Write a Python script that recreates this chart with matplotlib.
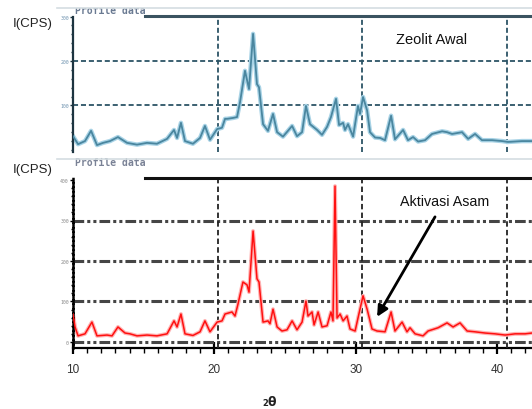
import matplotlib
matplotlib.use('Agg')
import matplotlib.pyplot as plt
from matplotlib.lines import Line2D
from matplotlib.patches import Rectangle
from matplotlib.ticker import MultipleLocator

# ---------------- data ----------------
tt_awal = [10.0, 10.35, 10.83, 11.25, 11.66, 12.08, 12.56, 13.11, 13.74, 14.43, 15.12, 15.81,
           16.51, 16.99, 17.20, 17.47, 17.75, 18.30, 18.79, 19.13, 19.48, 19.97, 20.31, 20.52,
           20.66, 21.07, 21.35, 21.56, 21.90, 22.18, 22.46, 22.73, 22.87, 23.15, 23.49, 23.84,
           24.12, 24.53, 25.16, 25.50, 25.85, 26.12, 26.40, 26.89, 27.23, 27.58, 27.85, 28.20,
           28.41, 28.69, 28.82, 29.03, 29.38, 29.72, 29.86, 30.07, 30.35, 30.55, 30.90, 31.25,
           31.59, 32.01, 32.28, 32.84, 33.18, 33.53, 33.88, 34.36, 34.84, 35.54, 35.88, 36.23,
           36.92, 37.34, 37.82, 38.30, 39.00, 39.69, 40.10, 41.07, 41.76]
I_awal = [31, 13, 20, 43, 11, 16, 20, 29, 16, 12, 16, 14,
          25, 45, 27, 61, 20, 14, 27, 54, 23, 47, 50, 70,
          70, 72, 74, 108, 178, 137, 261, 148, 141, 58, 43, 81,
          40, 30, 54, 31, 40, 99, 58, 45, 34, 52, 74, 115,
          56, 61, 45, 58, 30, 99, 81, 119, 89, 40, 28, 27,
          22, 77, 24, 45, 22, 29, 19, 22, 36, 42, 40, 36,
          40, 25, 36, 22, 22, 20, 18, 20, 20]

tt_asam = [10.0, 10.14, 10.35, 10.83, 11.31, 11.66, 12.35, 12.70, 13.11, 13.60, 13.94, 14.43,
           15.12, 15.81, 16.51, 16.99, 17.20, 17.47, 17.75, 18.30, 18.79, 19.13, 19.48, 19.97,
           20.31, 20.52, 21.00, 21.21, 21.42, 21.76, 22.04, 22.18, 22.46, 22.73, 22.87, 23.15,
           23.49, 23.63, 23.84, 24.12, 24.46, 24.81, 25.16, 25.50, 25.85, 26.12, 26.26, 26.54,
           26.68, 26.96, 27.23, 27.58, 27.85, 27.99, 28.13, 28.27, 28.48, 28.69, 28.96, 29.17,
           29.52, 29.72, 30.07, 30.35, 30.69, 31.04, 31.59, 32.01, 32.28, 32.77, 33.11, 33.32,
           33.67, 34.22, 34.57, 35.26, 35.88, 36.30, 36.78, 37.27, 37.82, 38.51, 39.20, 39.90,
           40.59, 41.28, 41.76]
I_asam = [69, 37, 15, 20, 49, 15, 17, 15, 37, 22, 20, 15,
          17, 15, 20, 52, 37, 69, 20, 16, 25, 52, 25, 49,
          52, 69, 74, 64, 94, 148, 141, 123, 274, 156, 148, 49,
          52, 45, 81, 37, 27, 30, 52, 30, 49, 101, 64, 74,
          42, 74, 37, 40, 74, 52, 385, 59, 69, 52, 64, 32,
          27, 59, 114, 81, 32, 27, 25, 74, 27, 49, 25, 35,
          20, 15, 27, 35, 47, 37, 47, 27, 25, 22, 20, 17,
          20, 20, 22]

x_ticks = [10, 20, 30, 40]
y_ticks_awal = [100, 200, 300]
y_ticks_asam = [0, 100, 200, 300, 400]
label_awal = "Zeolit Awal"
label_asam = "Aktivasi Asam"

# ---------------- layout ----------------
W, H = 532, 410
fig = plt.figure(figsize=(W / 100, H / 100), dpi=100)

def fx(px):
    return px / W

def fy(py):
    return 1 - py / H

SANS = ['Liberation Sans', 'DejaVu Sans']
XMAX = 41.76

ax1 = fig.add_axes([fx(73), fy(153.2), 1 - fx(73), (153.2 - 17.5) / H])
ax2 = fig.add_axes([fx(73), fy(349), 1 - fx(73), (349 - 179) / H])

teal = '#2c5466'

# ---- top panel ----
ax1.set_xlim(10, XMAX)
ax1.set_ylim(-5, 300)
for s in ['top', 'right', 'bottom']:
    ax1.spines[s].set_visible(False)
ax1.spines['left'].set_color('#1d3440')
ax1.spines['left'].set_linewidth(1.6)
ax1.set_xticks([])
ax1.set_yticks(y_ticks_awal)
ax1.set_yticklabels([str(v) for v in y_ticks_awal], fontsize=3.5,
                    family='DejaVu Sans Mono', color='#6f93b0')
ax1.yaxis.set_minor_locator(MultipleLocator(20))
ax1.tick_params(axis='y', which='major', length=2, width=1, color='#1d3440', pad=1)
ax1.tick_params(axis='y', which='minor', length=1.5, width=1, color='#1d3440')
for y in [100, 200]:
    ax1.axhline(y, color=teal, lw=1.3, ls=(0, (2.8, 1.6)), zorder=1)
for x in x_ticks[1:]:
    ax1.axvline(x, color=teal, lw=1.3, ls=(0, (2.8, 1.6)), zorder=1)
ax1.plot(tt_awal, I_awal, color='#a8d3e6', lw=3.2, zorder=2, solid_joinstyle='round')
ax1.plot(tt_awal, I_awal, color='#4a869f', lw=1.3, zorder=3, solid_joinstyle='round')
ax1.text(34.84, 249, label_awal, family=SANS, fontsize=10.5, color='#111111',
         ha='center', va='center')

# ---- bottom panel ----
ax2.set_xlim(10, XMAX)
ax2.set_ylim(-15, 405)
for s in ['top', 'right']:
    ax2.spines[s].set_visible(False)
ax2.spines['left'].set_color('black')
ax2.spines['left'].set_linewidth(1.8)
ax2.spines['left'].set_linestyle((0, (1.2, 0.6)))
ax2.spines['bottom'].set_visible(False)
ax2.set_xticks([])
ax2.set_yticks(y_ticks_asam)
ax2.set_yticklabels([str(v) for v in y_ticks_asam], fontsize=3.5,
                    family='DejaVu Sans Mono', color='#8a8a8a')
ax2.yaxis.set_minor_locator(MultipleLocator(20))
ax2.tick_params(axis='y', which='major', length=2, width=1, color='black', pad=1)
ax2.tick_params(axis='y', which='minor', length=1.5, width=1, color='black')
for y in [0, 100, 200, 300]:
    ax2.axhline(y, color='#454545', lw=2.2, ls=(0, (3.5, 1.0, 1.0, 1.0, 1.0, 1.0)), zorder=1)
for x in x_ticks[1:]:
    ax2.axvline(x, color='#222222', lw=1.3, ls=(0, (3.0, 1.8)), zorder=1)
ax2.plot(tt_asam, I_asam, color='#ffb3b3', lw=2.8, zorder=2, solid_joinstyle='round')
ax2.plot(tt_asam, I_asam, color='#ff1010', lw=1.1, zorder=3, solid_joinstyle='round')
ax2.text(35.74, 348, label_asam, family=SANS, fontsize=10.3, color='#111111',
         ha='center', va='center')
ax2.annotate('', xy=(31.04, 62), xytext=(35.05, 309),
             arrowprops=dict(arrowstyle='-|>', lw=2, color='black', mutation_scale=16,
                             shrinkA=0, shrinkB=0))

# x axis drawn with its own (slightly different) scale
def fwd(t):
    return 10 + (t - 10) * 14.45 / 14.13

def inv(v):
    return 10 + (v - 10) * 14.13 / 14.45

sec = ax2.secondary_xaxis('bottom', functions=(fwd, inv))
sec.set_xticks(x_ticks)
sec.set_xticklabels([str(v) for v in x_ticks], family=SANS, fontsize=8.5, color='#333333')
sec.xaxis.set_minor_locator(MultipleLocator(1))
sec.spines['bottom'].set_linewidth(1.6)
sec.spines['bottom'].set_color('black')
sec.tick_params(axis='x', which='major', direction='inout', length=9, width=1.6,
                color='black', pad=6)
sec.tick_params(axis='x', which='minor', direction='out', length=3.5, width=1, color='black')

# ---- decorations ----
fig.add_artist(Rectangle((0, fy(9)), 1, 1 - fy(9), transform=fig.transFigure,
                         facecolor='white', edgecolor='none', zorder=5))
fig.text(fx(75), fy(10.5), 'Profile data', family='DejaVu Sans Mono', fontsize=7,
         color='#6a7a92', va='center', ha='left', fontweight='bold', zorder=4)
fig.text(fx(75), fy(163), 'Profile data', family='DejaVu Sans Mono', fontsize=7,
         color='#7a8296', va='center', ha='left', fontweight='bold')
for py in [9, 160]:
    fig.add_artist(Line2D([fx(57), 1], [fy(py), fy(py)], color='#d4dde1', lw=1.2, zorder=6))
fig.add_artist(Line2D([fx(145), 1], [fy(17), fy(17)], color='#3a5360', lw=2.2))
fig.add_artist(Line2D([fx(145), 1], [fy(179), fy(179)], color='#111111', lw=2.2))

fig.text(fx(33), fy(24), 'I(CPS)', family=SANS, fontsize=9.5, color='#222222',
         ha='center', va='center')
fig.text(fx(33), fy(170), 'I(CPS)', family=SANS, fontsize=9.5, color='#222222',
         ha='center', va='center')
fig.text(fx(268), fy(406), '2', family='DejaVu Sans', fontsize=6, fontweight='bold',
         ha='right', va='baseline', color='#222222')
fig.text(fx(268), fy(406), 'θ', family='DejaVu Sans', fontsize=9, fontweight='bold',
         ha='left', va='baseline', color='#222222')

fig.savefig('out.png', dpi=100)
